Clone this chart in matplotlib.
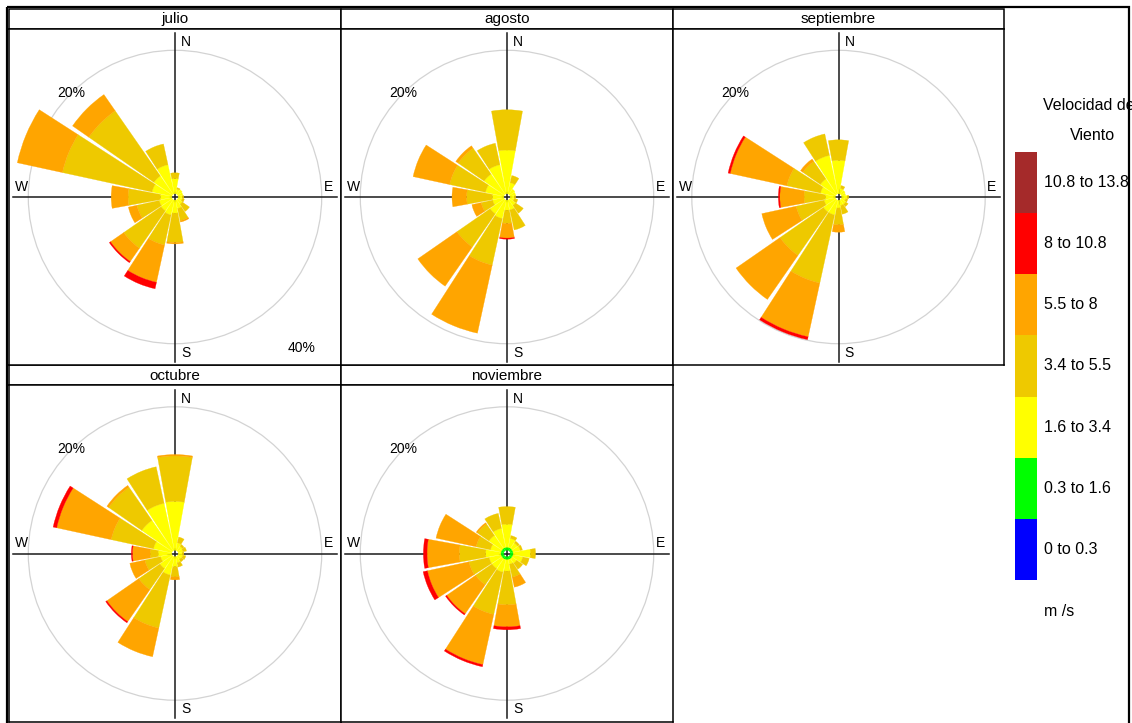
import matplotlib
matplotlib.use("Agg")
import matplotlib.pyplot as plt
from matplotlib.patches import Wedge, Rectangle, Circle

plt.rcParams['font.family'] = ['Liberation Sans', 'DejaVu Sans']

W_PX, H_PX, DPI = 1132, 723, 100

# Wind direction sectors (degrees from north, clockwise)
directions = [0, 22.5, 45, 67.5, 90, 112.5, 135, 157.5,
              180, 202.5, 225, 247.5, 270, 292.5, 315, 337.5]

speed_bins = ["0 to 0.3", "0.3 to 1.6", "1.6 to 3.4", "3.4 to 5.5",
              "5.5 to 8", "8 to 10.8", "10.8 to 13.8"]
speed_colors = ["#0000FF", "#00FF00", "#FFFF00", "#EEC900",
                "#FFA500", "#FF0000", "#A52A2A"]

months = ["julio", "agosto", "septiembre", "octubre", "noviembre"]

# Frequency (%) per direction (rows, N clockwise) and speed bin (columns)
julio = [
    [0, 0, 2.05, 0.8, 0, 0, 0],
    [0, 0, 0.65, 0.2, 0, 0, 0],
    [0, 0, 0.75, 0, 0, 0, 0],
    [0, 0, 0.65, 0, 0, 0, 0],
    [0, 0, 0.55, 0.2, 0, 0, 0],
    [0, 0, 0.55, 0.3, 0, 0, 0],
    [0, 0, 0.75, 1.2, 0, 0, 0],
    [0, 0, 1.15, 1.7, 0.2, 0, 0],
    [0, 0, 1.75, 4.0, 0.2, 0, 0],
    [0, 0, 2.05, 4.2, 5.2, 0.9, 0],
    [0, 0, 1.85, 6.2, 2.2, 0.2, 0],
    [0, 0, 1.75, 3.1, 1.2, 0, 0],
    [0, 0, 1.55, 4.4, 2.3, 0, 0],
    [0, 0, 2.75, 12.5, 6.3, 0, 0],
    [0, 0, 3.05, 10.8, 2.7, 0, 0],
    [0, 0, 4.05, 2.9, 0, 0, 0],
]
agosto = [
    [0, 0, 5.95, 5.5, 0, 0, 0],
    [0, 0, 1.55, 1.0, 0, 0, 0],
    [0, 0, 0.85, 0, 0, 0, 0],
    [0, 0, 0.75, 0, 0, 0, 0],
    [0, 0, 0.55, 0.2, 0, 0, 0],
    [0, 0, 0.55, 0.5, 0, 0, 0],
    [0, 0, 0.95, 1.3, 0, 0, 0],
    [0, 0, 1.35, 2.8, 0, 0, 0],
    [0, 0, 1.35, 1.8, 2.0, 0.15, 0],
    [0, 0, 2.55, 6.5, 9.5, 0, 0],
    [0, 0, 2.35, 5.5, 6.5, 0, 0],
    [0, 0, 1.55, 1.6, 1.3, 0, 0],
    [0, 0, 1.55, 3.5, 2.0, 0, 0],
    [0, 0, 2.55, 5.0, 5.1, 0, 0],
    [0, 0, 3.35, 4.3, 0.4, 0, 0],
    [0, 0, 4.05, 3.0, 0, 0, 0],
]
septiembre = [
    [0, 0, 4.55, 2.8, 0, 0, 0],
    [0, 0, 0.75, 0.4, 0, 0, 0],
    [0, 0, 0.65, 0, 0, 0, 0],
    [0, 0, 0.55, 0, 0, 0, 0],
    [0, 0, 0.75, 0.2, 0, 0, 0],
    [0, 0, 0.55, 0.3, 0, 0, 0],
    [0, 0, 0.75, 0.4, 0, 0, 0],
    [0, 0, 0.75, 1.2, 0, 0, 0],
    [0, 0, 1.05, 2.3, 1.0, 0, 0],
    [0, 0, 2.05, 9.5, 7.5, 0.4, 0],
    [0, 0, 2.05, 7.2, 7.3, 0, 0],
    [0, 0, 1.55, 3.9, 4.8, 0, 0],
    [0, 0, 1.35, 2.9, 3.3, 0.2, 0],
    [0, 0, 2.05, 4.7, 7.9, 0.3, 0],
    [0, 0, 2.55, 2.9, 0.4, 0, 0],
    [0, 0, 5.35, 3.0, 0, 0, 0],
]
octubre = [
    [0, 0, 6.65, 6.2, 0.2, 0, 0],
    [0, 0, 1.05, 0.8, 0, 0, 0],
    [0, 0, 0.75, 0.3, 0, 0, 0],
    [0, 0, 0.65, 0.5, 0, 0, 0],
    [0, 0, 0.55, 0.2, 0, 0, 0],
    [0, 0, 0.65, 0.4, 0, 0, 0],
    [0, 0, 0.55, 0.4, 0, 0, 0],
    [0, 0, 0.85, 0.6, 0, 0, 0],
    [0, 0, 1.35, 1.4, 0.4, 0, 0],
    [0, 0, 2.55, 7.4, 4.0, 0, 0],
    [0, 0, 2.05, 3.5, 5.3, 0.2, 0],
    [0, 0, 1.55, 2.2, 2.1, 0, 0],
    [0, 0, 1.85, 1.1, 2.4, 0.15, 0],
    [0, 0, 2.55, 5.9, 7.6, 0.5, 0],
    [0, 0, 5.05, 5.5, 0.3, 0, 0],
    [0, 0, 6.55, 5.1, 0, 0, 0],
]
noviembre = [
    [0, 0.4, 3.15, 2.4, 0, 0, 0],
    [0, 0.4, 1.25, 0.4, 0, 0, 0],
    [0, 0.4, 0.9, 0.3, 0, 0, 0],
    [0, 0.4, 1.0, 0.3, 0, 0, 0],
    [0, 0.4, 2.35, 0.7, 0, 0, 0],
    [0, 0.4, 1.35, 0.9, 0, 0, 0],
    [0, 0.4, 0.75, 1.0, 0, 0, 0],
    [0, 0.4, 0.65, 1.8, 1.4, 0, 0],
    [0, 0.4, 1.55, 4.6, 3.0, 0.4, 0],
    [0, 0.4, 1.75, 5.9, 7.0, 0.3, 0],
    [0, 0.4, 1.65, 2.7, 4.8, 0.2, 0],
    [0, 0.4, 1.65, 2.8, 5.8, 0.6, 0],
    [0, 0.4, 2.05, 3.6, 4.4, 0.5, 0],
    [0, 0.4, 1.45, 2.0, 5.6, 0, 0],
    [0, 0.4, 2.15, 1.9, 0.2, 0, 0],
    [0, 0.4, 2.65, 2.1, 0, 0, 0],
]
month_data = [julio, agosto, septiembre, octubre, noviembre]

grid_pct = 20
hole = 0.45          # central offset of the rose
half_sector = 10.25  # wedge half-width in degrees (22.5 sectors with a gap)
px_per_unit = 7.335  # drawing scale: pixels per percent

# Panel layout in pixels: (x0, x1) columns and (strip top, panel top, panel bottom) rows
cols = [(9, 341), (341, 673), (673, 1004)]
rows = [(9, 29, 365), (365, 385, 722)]

fig = plt.figure(figsize=(W_PX / DPI, H_PX / DPI), dpi=DPI)
fig.patch.set_facecolor("white")


def px_rect(x0, y0, x1, y1):
    return [x0 / W_PX, 1 - y1 / H_PX, (x1 - x0) / W_PX, (y1 - y0) / H_PX]


bg = fig.add_axes([0, 0, 1, 1])
bg.set_xlim(0, W_PX)
bg.set_ylim(H_PX, 0)
bg.axis("off")

# outer frame
bg.add_patch(Rectangle((7, 7), 1122, 740, fill=False, edgecolor="black", lw=1.6))

for i, (name, data) in enumerate(zip(months, month_data)):
    x0, x1 = cols[i % 3]
    sy0, py0, py1 = rows[i // 3]
    # strip with month name
    bg.add_patch(Rectangle((x0, sy0), x1 - x0, py0 - sy0, facecolor="white",
                           edgecolor="black", lw=1.1))
    bg.text((x0 + x1) / 2, (sy0 + py0) / 2 + 0.5, name, ha="center", va="center",
            fontsize=11)

    ax = fig.add_axes(px_rect(x0, py0, x1, py1))
    hw = (x1 - x0) / 2 / px_per_unit
    hh = (py1 - py0) / 2 / px_per_unit
    ax.set_xlim(-hw, hw)
    ax.set_ylim(-hh, hh)
    ax.set_xticks([])
    ax.set_yticks([])
    for sp in ax.spines.values():
        sp.set_linewidth(1.1)
        sp.set_color("black")

    # grid circle
    ax.add_patch(Circle((0, 0), grid_pct, fill=False, edgecolor="#D3D3D3", lw=0.9, zorder=1))
    # compass axes
    ax.plot([-22.05, 22.05], [0, 0], color="#1a1a1a", lw=1.1, zorder=1)
    ax.plot([0, 0], [-22.45, 22.3], color="#1a1a1a", lw=1.1, zorder=1)

    # stacked wedges
    for d, freqs in zip(directions, data):
        r = hole
        for f, c in zip(freqs, speed_colors):
            if f <= 0:
                continue
            ax.add_patch(Wedge((0, 0), r + f, 90 - d - half_sector, 90 - d + half_sector,
                               width=f, facecolor=c, edgecolor=c, lw=0.2, zorder=2))
            r += f

    ax.text(0.85, 21.1, "N", ha="left", va="center", fontsize=10, zorder=3)
    ax.text(0.85, -21.2, "S", ha="left", va="center", fontsize=10, zorder=3)
    ax.text(-20.9, 1.4, "W", ha="center", va="center", fontsize=10, zorder=3)
    ax.text(20.9, 1.4, "E", ha="center", va="center", fontsize=10, zorder=3)
    ax.text(-14.1, 14.2, f"{grid_pct}%", ha="center", va="center", fontsize=10, zorder=3)
    if i == 0:
        ax.text(17.3, -20.6, f"{2 * grid_pct}%", ha="center", va="center", fontsize=10, zorder=3)

# legend
bg.text(1043, 105, "Velocidad de", ha="left", va="center", fontsize=11.5)
bg.text(1092, 136, "Viento", ha="center", va="center", fontsize=11.5)
top, bottom = 152, 580
step = (bottom - top) / len(speed_bins)
for j, (lab, c) in enumerate(zip(speed_bins[::-1], speed_colors[::-1])):
    y = top + j * step
    bg.add_patch(Rectangle((1015, y), 22, step, facecolor=c, edgecolor="none"))
    bg.text(1044, y + step / 2, lab, ha="left", va="center", fontsize=11.5)
bg.text(1044, 611, "m /s", ha="left", va="center", fontsize=11.5)

fig.savefig("out.png", dpi=DPI, facecolor="white")
